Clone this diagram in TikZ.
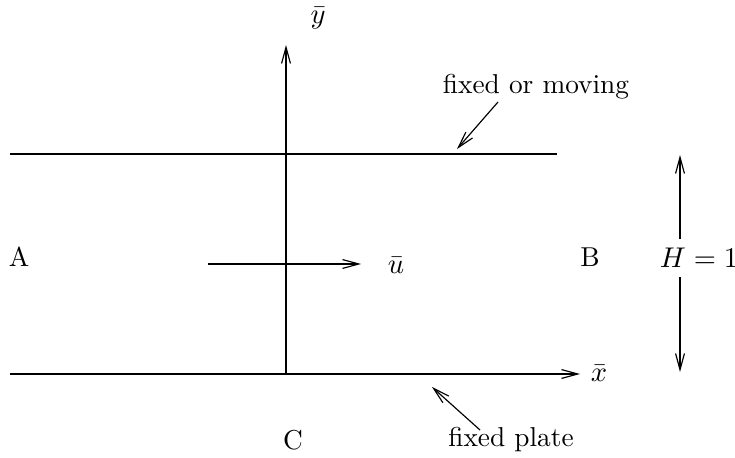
\documentclass[tikz,border=0pt]{standalone}
\usepackage{tikz}
\usetikzlibrary{arrows.meta,positioning}

\begin{document}
\begin{tikzpicture}[x=0.0135cm, y=-0.0135cm,
  every node/.style={font=\fontsize{10.5}{13}\selectfont},
  tip/.style={-{Straight Barb[length=2.2mm,width=1.2mm]}, line width=0.45pt},
  wall/.style={line width=0.45pt}]
  \useasboundingbox (0,0) rectangle (735,458);
  % plates and axes
  \coordinate (o) at (286,374);
  \coordinate (tl) at (10,154);
  \coordinate (tr) at (557,154);
  \coordinate (bl) at (10,374);
  \coordinate (xend) at (580,374);
  \coordinate (yend) at (286,45);
  \node (xl) at (599,373) {$\bar{x}$};
  \node (yl) at (318,18) {$\bar{y}$};
  \draw[wall] (tl) -- (tr);
  \draw[tip] (bl) -- (xend);
  \draw[tip] (o) -- (yend);
  % flow
  \coordinate (us) at (208,264);
  \coordinate (ue) at (361,264);
  \node (ul) at (396,265) {$\bar{u}$};
  \draw[tip] (us) -- (ue);
  \node (a) at (19,257) {A};
  \node (b) at (590,257) {B};
  \node (c) at (293,440) {C};
  % walls
  \node (fm) at (536,87) {fixed or moving};
  \coordinate (fms) at (498,102);
  \coordinate (fme) at (457,149);
  \draw[tip] (fms) -- (fme);
  \node (fp) at (511,440) {fixed plate};
  \coordinate (fps) at (480,430);
  \coordinate (fpe) at (432,387);
  \draw[tip] (fps) -- (fpe);
  % height
  \node (h) at (699,258) {$H=1$};
  \coordinate (ht) at (680,155);
  \coordinate (hb) at (680,372);
  \draw[tip] (ht |- h.north) -- (ht);
  \draw[tip] (hb |- h.south) -- (hb);
\end{tikzpicture}
\end{document}
